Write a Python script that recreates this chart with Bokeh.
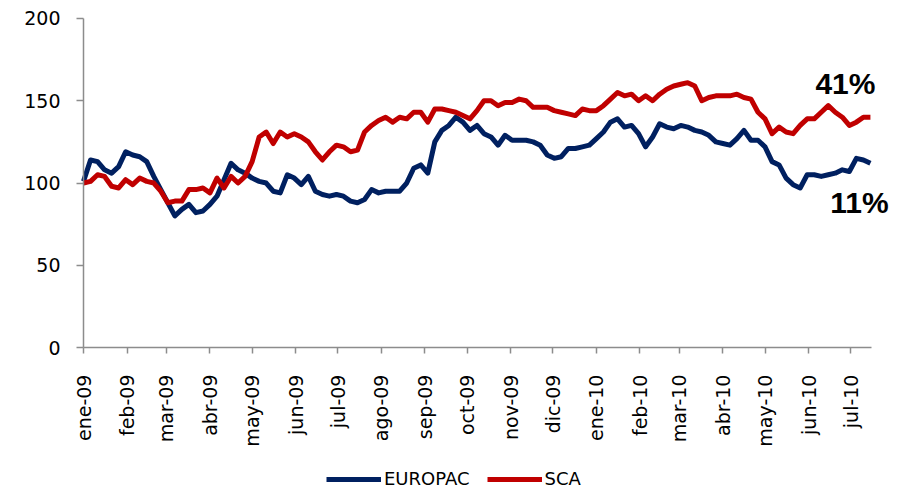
import math
import pandas as pd
from bokeh.plotting import figure
from bokeh.models import FixedTicker, Legend, LegendItem, Range1d, Label
from bokeh.embed import file_html
from bokeh.resources import INLINE

# ---------------- data ----------------
month_labels = ["ene-09", "feb-09", "mar-09", "abr-09", "may-09", "jun-09", "jul-09",
                "ago-09", "sep-09", "oct-09", "nov-09", "dic-09", "ene-10", "feb-10",
                "mar-10", "abr-10", "may-10", "jun-10", "jul-10"]

europac = [101, 114, 113, 108, 106, 110, 119, 117, 116, 113,
           104, 96, 88, 80, 84, 87, 82, 83, 87, 92,
           102, 112, 108, 106, 103, 101, 100, 95, 94, 105,
           103, 99, 104, 95, 93, 92, 93, 92, 89, 88,
           90, 96, 94, 95, 95, 95, 100, 109, 111, 106,
           125, 132, 135, 140, 137, 132, 135, 130, 128, 123,
           129, 126, 126, 126, 125, 123, 117, 115, 116, 121,
           121, 122, 123, 127, 131, 137, 139, 134, 135, 130,
           122, 128, 136, 134, 133, 135, 134, 132, 131, 129,
           125, 124, 123, 127, 132, 126, 126, 122, 113, 111,
           103, 99, 97, 105, 105, 104, 105, 106, 108, 107,
           115, 114, 112]

sca = [100, 101, 105, 104, 98, 97, 102, 99, 103, 101,
       100, 95, 88, 89, 89, 96, 96, 97, 94, 103,
       97, 104, 100, 104, 113, 128, 131, 124, 131, 128,
       130, 128, 125, 119, 114, 119, 123, 122, 119, 120,
       131, 135, 138, 140, 137, 140, 139, 143, 143, 137,
       145, 145, 144, 143, 141, 139, 144, 150, 150, 147,
       149, 149, 151, 150, 146, 146, 146, 144, 143, 142,
       141, 145, 144, 144, 147, 151, 155, 153, 154, 150,
       153, 150, 154, 157, 159, 160, 161, 159, 150, 152,
       153, 153, 153, 154, 152, 151, 143, 139, 130, 134,
       131, 130, 135, 139, 139, 143, 147, 143, 140, 135,
       137, 140, 140]

series_names = ["EUROPAC", "SCA"]
end_labels = ["11%", "41%"]
y_ticks = [0, 50, 100, 150, 200]

# ---------------- x positions from dates ----------------
start = pd.Timestamp("2009-01-01")
dates = pd.date_range(start, periods=len(europac), freq="5D")
days = [int((d - start).days) for d in dates]
month_starts = pd.date_range(start, periods=len(month_labels), freq="MS")
tick_days = [int((d - start).days) for d in month_starts]
axis_end_day = 561

BLUE = "#002060"
RED = "#C00000"
AXIS = "#8C8C8C"

# The frame covers the whole canvas so that tick labels, the legend and the
# end labels are never clipped; axes are pinned to x=0 / y=0 and bounded.
p = figure(width=899, height=490, output_backend="svg", toolbar_location=None,
           x_range=Range1d(-59.07, 575), y_range=Range1d(-86.9, 210.94),
           min_border_left=0, min_border_right=8, min_border_top=0,
           min_border_bottom=0)
p.background_fill_color = "white"
p.border_fill_color = "white"
p.outline_line_color = None
p.xgrid.visible = False
p.ygrid.visible = False

r_blue = p.line(days, europac, line_color=BLUE, line_width=5, line_join="round")
r_red = p.line(days, sca, line_color=RED, line_width=5, line_join="round")

# end labels
p.add_layout(Label(x=days[-1], y=sca[-1], text=end_labels[1], x_offset=-25, y_offset=34,
                   text_font="Liberation Sans", text_font_style="bold", text_font_size="30px",
                   text_align="center", text_baseline="middle", text_color="black"))
p.add_layout(Label(x=days[-1], y=europac[-1], text=end_labels[0], x_offset=-11, y_offset=-39,
                   text_font="Liberation Sans", text_font_style="bold", text_font_size="30px",
                   text_align="center", text_baseline="middle", text_color="black"))

# axes
p.yaxis.fixed_location = 0
p.yaxis.ticker = FixedTicker(ticks=y_ticks)
p.yaxis.bounds = (0, 200)
p.yaxis.axis_line_color = AXIS
p.yaxis.axis_line_width = 1.5
p.yaxis.major_tick_line_color = AXIS
p.yaxis.major_tick_line_width = 1.5
p.yaxis.major_tick_out = 7
p.yaxis.major_tick_in = 0
p.yaxis.minor_tick_line_color = None
p.yaxis.major_label_standoff = 16
p.yaxis.major_label_text_font = "DejaVu Sans"
p.yaxis.major_label_text_font_size = "19px"
p.yaxis.major_label_text_color = "black"

p.xaxis.fixed_location = 0
p.xaxis.bounds = (0, axis_end_day)
p.xaxis.ticker = FixedTicker(ticks=tick_days)
p.xaxis.major_label_overrides = {d: lab for d, lab in zip(tick_days, month_labels)}
p.xaxis.major_label_orientation = math.pi / 2
p.xaxis.axis_line_color = AXIS
p.xaxis.axis_line_width = 1.5
p.xaxis.major_tick_line_color = AXIS
p.xaxis.major_tick_line_width = 1.5
p.xaxis.major_tick_out = 6
p.xaxis.major_tick_in = 0
p.xaxis.minor_tick_line_color = None
p.xaxis.major_label_standoff = 21
p.xaxis.major_label_text_font = "DejaVu Sans"
p.xaxis.major_label_text_font_size = "19px"
p.xaxis.major_label_text_color = "black"

legend = Legend(items=[LegendItem(label=series_names[0], renderers=[r_blue]),
                       LegendItem(label=series_names[1], renderers=[r_red])],
                location=(326, 1), orientation="horizontal",
                padding=0, spacing=17, margin=0,
                glyph_width=55, glyph_height=16, label_height=16, label_standoff=3,
                label_text_font="DejaVu Sans", label_text_font_size="18px",
                label_text_color="black", border_line_color=None,
                background_fill_alpha=0)
p.add_layout(legend, "center")

open("out.html", "w").write(file_html(p, INLINE))
